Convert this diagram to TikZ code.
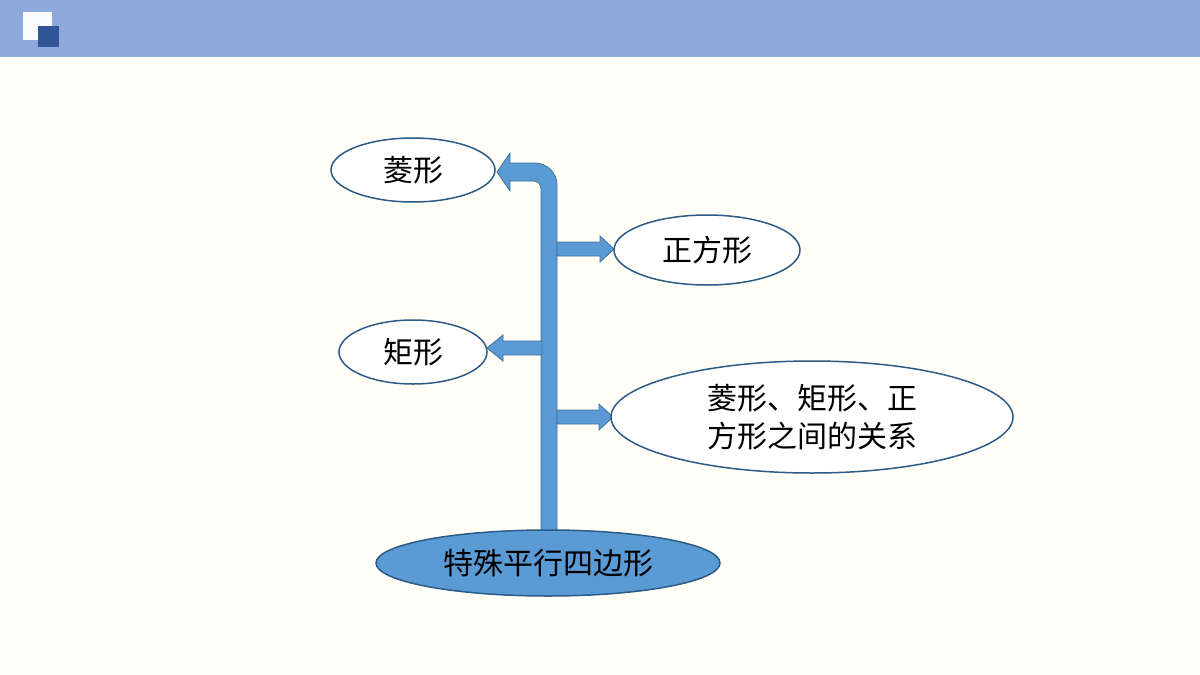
\documentclass[tikz,border=0pt]{standalone}
\usepackage{fontspec}
\setmainfont{Noto Sans CJK SC}
\begin{document}
\begin{tikzpicture}[x=1pt,y=-1pt,
  ell/.style={ellipse,draw=edge,line width=1.5pt,fill=white,inner sep=0pt,font=\fontsize{30}{38}\selectfont},
  arr/.style={fill=arrfill,draw=arredge,line width=0.8pt}]
\usetikzlibrary{shapes.geometric}
\definecolor{bg}{HTML}{FFFFF8}
\definecolor{band}{HTML}{8EAADC}
\definecolor{dark}{HTML}{2F5597}
\definecolor{edge}{HTML}{2E5A87}
\definecolor{arrfill}{HTML}{5B9BD5}
\definecolor{arredge}{HTML}{41719C}
\useasboundingbox (0,0) rectangle (1200,675);
\fill[bg] (0,0) rectangle (1200,675);
\fill[band] (0,0) rectangle (1200,57);
\fill[white!95!band] (23,12) rectangle (52,40);
\fill[dark] (38,26) rectangle (59,47);
% arrows
\path[arr] (541,530) -- (541,189) .. controls (541,184) and (538,181) .. (533,181) -- (510,181) -- (510,191) -- (497,172) -- (510,153) -- (510,163) -- (535,163) .. controls (547,163) and (557,173) .. (557,185) -- (557,530) -- cycle;
\path[arr] (557,242) -- (600,242) -- (600,236) -- (614,249) -- (600,262) -- (600,256) -- (557,256) -- cycle;
\path[arr] (542,341) -- (503,341) -- (503,335) -- (487,348) -- (503,361) -- (503,355) -- (542,355) -- cycle;
\path[arr] (557,410) -- (599,410) -- (599,404) -- (613,417) -- (599,430) -- (599,424) -- (557,424) -- cycle;
% ellipses
\node[ell,minimum width=164pt,minimum height=64pt] (a) at (413,170) {菱形};
\node[ell,minimum width=186pt,minimum height=70pt] (b) at (707,250) {正方形};
\node[ell,minimum width=148pt,minimum height=64pt] (c) at (413,352) {矩形};
\node[ell,minimum width=402pt,minimum height=112pt,align=left] (d) at (812,417) {菱形、矩形、正\\方形之间的关系};
\node[ell,fill=arrfill,minimum width=344pt,minimum height=66pt] (e) at (548,563) {特殊平行四边形};
\end{tikzpicture}
\end{document}
